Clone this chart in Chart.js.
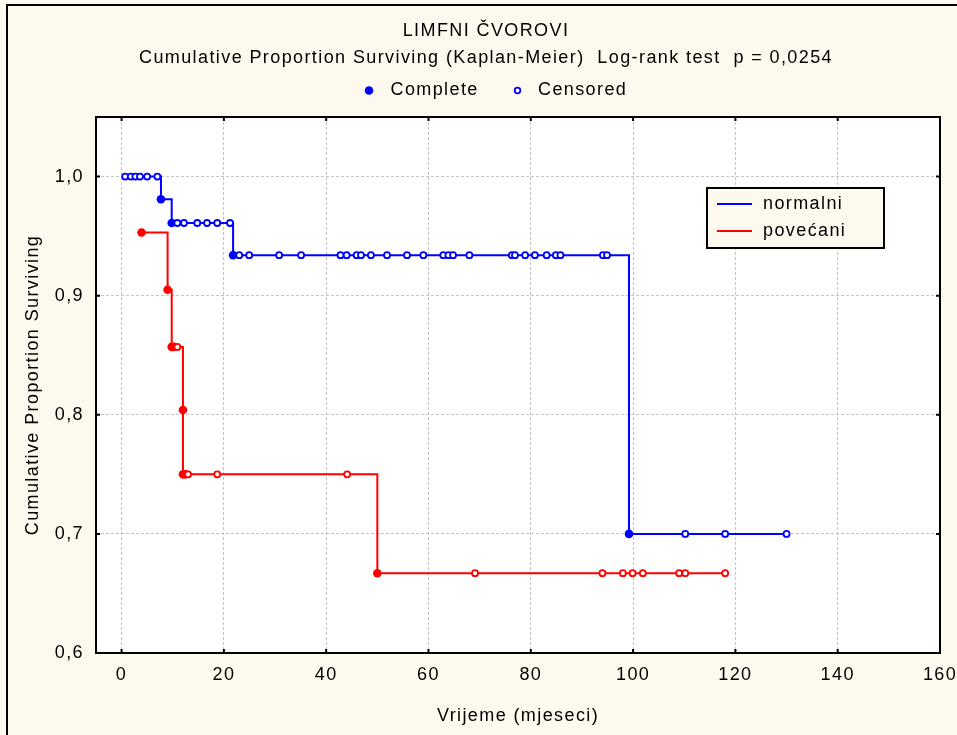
<!DOCTYPE html>
<html>
<head>
<meta charset="utf-8">
<script src="https://cdn.jsdelivr.net/npm/chart.js@4.4.1/dist/chart.umd.min.js"></script>
<style>
html,body{margin:0;padding:0;background:#fdf9ef;}
canvas{display:block;}
</style>
</head>
<body>
<canvas id="c" width="957" height="735"></canvas>
<script>
// ---- texts ----
const titleLines = ['LIMFNI ČVOROVI', 'Cumulative Proportion Surviving (Kaplan-Meier)  Log-rank test  p = 0,0254'];
const markerLegend = ['Complete', 'Censored'];
const groupNames = ['normalni', 'povećani'];
const xAxisTitle = 'Vrijeme (mjeseci)';
const yAxisTitle = 'Cumulative Proportion Surviving';

// ---- ticks ----
const xTickValues = [0, 20, 40, 60, 80, 100, 120, 140, 160];
const xTickLabels = ['0', '20', '40', '60', '80', '100', '120', '140', '160'];
const yTickValues = [0.6, 0.7, 0.8, 0.9, 1.0];
const yTickLabels = ['0,6', '0,7', '0,8', '0,9', '1,0'];

// ---- group "normalni" (time, survival, 1 = complete / 0 = censored) ----
const normalTime = [0.7, 1.8, 2.7, 3.6, 5.0, 7.0, 7.7, 9.8, 10.9, 12.2, 14.8, 16.7, 18.7, 21.2, 21.8,
  23.0, 24.95, 30.8, 35.1, 42.8, 44.0, 45.95, 46.8, 48.75, 51.9, 55.8, 59.0, 62.9, 63.9, 64.8, 68.0,
  76.3, 76.9, 78.9, 80.8, 83.1, 84.9, 85.8, 94.1, 94.9, 99.2, 110.2, 118.0, 130.0];
const normalSurv = [1.0, 1.0, 1.0, 1.0, 1.0, 1.0, 0.981, 0.961, 0.961, 0.961, 0.961, 0.961, 0.961, 0.961, 0.934,
  0.934, 0.934, 0.934, 0.934, 0.934, 0.934, 0.934, 0.934, 0.934, 0.934, 0.934, 0.934, 0.934, 0.934, 0.934, 0.934,
  0.934, 0.934, 0.934, 0.934, 0.934, 0.934, 0.934, 0.934, 0.934, 0.700, 0.700, 0.700, 0.700];
const normalEvent = [0, 0, 0, 0, 0, 0, 1, 1, 0, 0, 0, 0, 0, 0, 1,
  0, 0, 0, 0, 0, 0, 0, 0, 0, 0, 0, 0, 0, 0, 0, 0,
  0, 0, 0, 0, 0, 0, 0, 0, 0, 1, 0, 0, 0];

// ---- group "povećani" ----
const increasedTime = [3.9, 9.0, 9.8, 10.2, 10.9, 12.0, 12.0, 12.5, 13.0, 18.7, 44.1, 50.0,
  69.1, 94.0, 98.0, 99.9, 101.9, 109.0, 110.2, 118.0];
const increasedSurv = [0.953, 0.905, 0.857, 0.857, 0.857, 0.804, 0.750, 0.750, 0.750, 0.750, 0.750, 0.667,
  0.667, 0.667, 0.667, 0.667, 0.667, 0.667, 0.667, 0.667];
const increasedEvent = [1, 1, 1, 1, 0, 1, 1, 1, 0, 0, 0, 1,
  0, 0, 0, 0, 0, 0, 0, 0];

const groupColors = ['#0000ff', '#ff0000'];
const FONT = "'Liberation Sans', Arial, sans-serif";
const CREAM = '#fdf9ef';
const SPACING = '1.4px';

Chart.defaults.font.family = FONT;
Chart.defaults.font.size = 18;
Chart.defaults.color = '#000';

function makeDataset(label, times, surv, events, color) {
  return {
    label: label,
    data: times.map((t, i) => ({x: t, y: surv[i]})),
    borderColor: color,
    backgroundColor: color,
    borderWidth: 2,
    stepped: 'before',
    fill: false,
    pointRadius: events.map(e => e ? 4.3 : 3),
    pointBorderWidth: events.map(e => e ? 0 : 1.8),
    pointBackgroundColor: events.map(e => e ? color : '#ffffff'),
    pointBorderColor: color,
    pointHoverRadius: 0
  };
}

const decor = {
  id: 'decor',
  beforeLayout(chart) { chart.ctx.letterSpacing = SPACING; },
  beforeDraw(chart) {
    const ctx = chart.ctx, a = chart.chartArea;
    ctx.save();
    ctx.fillStyle = CREAM;
    ctx.fillRect(0, 0, chart.width, chart.height);
    ctx.fillStyle = '#ffffff';
    ctx.fillRect(a.left, a.top, a.right - a.left, a.bottom - a.top);
    ctx.strokeStyle = '#000';
    ctx.lineWidth = 2;
    ctx.beginPath();
    ctx.moveTo(7, chart.height);
    ctx.lineTo(7, 5);
    ctx.lineTo(chart.width, 5);
    ctx.stroke();
    ctx.restore();
    ctx.letterSpacing = SPACING;
  },
  afterDraw(chart) {
    const ctx = chart.ctx, a = chart.chartArea;
    const xs = chart.scales.x, ys = chart.scales.y;
    ctx.save();
    ctx.letterSpacing = SPACING;
    // plot frame
    ctx.strokeStyle = '#000';
    ctx.lineWidth = 2;
    ctx.strokeRect(a.left, a.top, a.right - a.left, a.bottom - a.top);
    // inward tick marks on all four sides
    const tl = 4;
    ctx.beginPath();
    xTickValues.forEach(v => {
      const px = xs.getPixelForValue(v);
      ctx.moveTo(px, a.bottom); ctx.lineTo(px, a.bottom - tl);
      ctx.moveTo(px, a.top); ctx.lineTo(px, a.top + tl);
    });
    yTickValues.forEach(v => {
      const py = ys.getPixelForValue(v);
      ctx.moveTo(a.left, py); ctx.lineTo(a.left + tl, py);
      ctx.moveTo(a.right, py); ctx.lineTo(a.right - tl, py);
    });
    ctx.stroke();

    // group legend box inside the plot
    const lx = a.right - 233, ly = a.top + 71, lw = 177, lh = 60;
    ctx.fillStyle = CREAM;
    ctx.fillRect(lx, ly, lw, lh);
    ctx.lineWidth = 2;
    ctx.strokeStyle = '#000';
    ctx.strokeRect(lx, ly, lw, lh);
    ctx.font = '18px ' + FONT;
    ctx.textBaseline = 'middle';
    ctx.textAlign = 'left';
    groupNames.forEach((name, i) => {
      const yy = ly + 16 + i * 27;
      ctx.strokeStyle = groupColors[i];
      ctx.lineWidth = 2;
      ctx.beginPath();
      ctx.moveTo(lx + 10, yy); ctx.lineTo(lx + 45, yy);
      ctx.stroke();
      ctx.fillStyle = '#000';
      ctx.fillText(name, lx + 56, yy);
    });

    // marker legend under the title
    const cx = (chart.titleBlock.left + chart.titleBlock.right) / 2;
    const cy = 90.5;
    ctx.fillStyle = groupColors[0];
    ctx.beginPath();
    ctx.arc(cx - 117, cy, 4.3, 0, Math.PI * 2);
    ctx.fill();
    ctx.fillStyle = '#000';
    ctx.fillText(markerLegend[0], cx - 95.5, cy);
    ctx.beginPath();
    ctx.arc(cx + 31.5, cy, 2.8, 0, Math.PI * 2);
    ctx.fillStyle = '#ffffff';
    ctx.fill();
    ctx.strokeStyle = groupColors[0];
    ctx.lineWidth = 1.8;
    ctx.stroke();
    ctx.fillStyle = '#000';
    ctx.fillText(markerLegend[1], cx + 52, cy);
    ctx.restore();
  }
};

function zeroPad(s) { s.paddingLeft = 0; s.paddingRight = 0; s.paddingTop = 0; s.paddingBottom = 0; }

new Chart(document.getElementById('c'), {
  type: 'line',
  data: {
    datasets: [
      makeDataset(groupNames[0], normalTime, normalSurv, normalEvent, groupColors[0]),
      makeDataset(groupNames[1], increasedTime, increasedSurv, increasedEvent, groupColors[1])
    ]
  },
  options: {
    responsive: false,
    animation: false,
    devicePixelRatio: 1,
    layout: { padding: { top: 18, left: 32, right: 17, bottom: 0 } },
    plugins: {
      legend: { display: false },
      tooltip: { enabled: false },
      title: {
        display: true,
        text: titleLines,
        color: '#000',
        font: { size: 18, weight: 'normal', lineHeight: 27 / 18 },
        padding: { top: 0, bottom: 45 }
      }
    },
    scales: {
      x: {
        type: 'linear',
        min: -5,
        max: 160,
        afterBuildTicks: s => { s.ticks = xTickValues.map(v => ({value: v})); },
        ticks: {
          callback: (v, i) => xTickLabels[i],
          color: '#000',
          font: { size: 18 },
          padding: 11,
          maxRotation: 0,
          autoSkip: false
        },
        grid: { color: '#c4c4c4', lineWidth: 1, drawTicks: false },
        border: { display: false, dash: [3, 2] },
        title: {
          display: true, text: xAxisTitle, color: '#000',
          font: { size: 18 }, padding: { top: 0, bottom: 8 }
        },
        afterFit: s => { s.height = 82; zeroPad(s); }
      },
      y: {
        type: 'linear',
        min: 0.6,
        max: 1.05,
        afterBuildTicks: s => { s.ticks = yTickValues.map(v => ({value: v})); },
        ticks: {
          callback: (v, i) => yTickLabels[i],
          color: '#000',
          font: { size: 18 },
          padding: 12,
          autoSkip: false
        },
        grid: { color: '#c4c4c4', lineWidth: 1, drawTicks: false },
        border: { display: false, dash: [3, 2] },
        title: {
          display: true, text: yAxisTitle, color: '#000',
          font: { size: 18 }, padding: { top: -10, bottom: 0 }
        },
        afterFit: s => { s.width = 64; zeroPad(s); }
      }
    }
  },
  plugins: [decor]
});
</script>
</body>
</html>
